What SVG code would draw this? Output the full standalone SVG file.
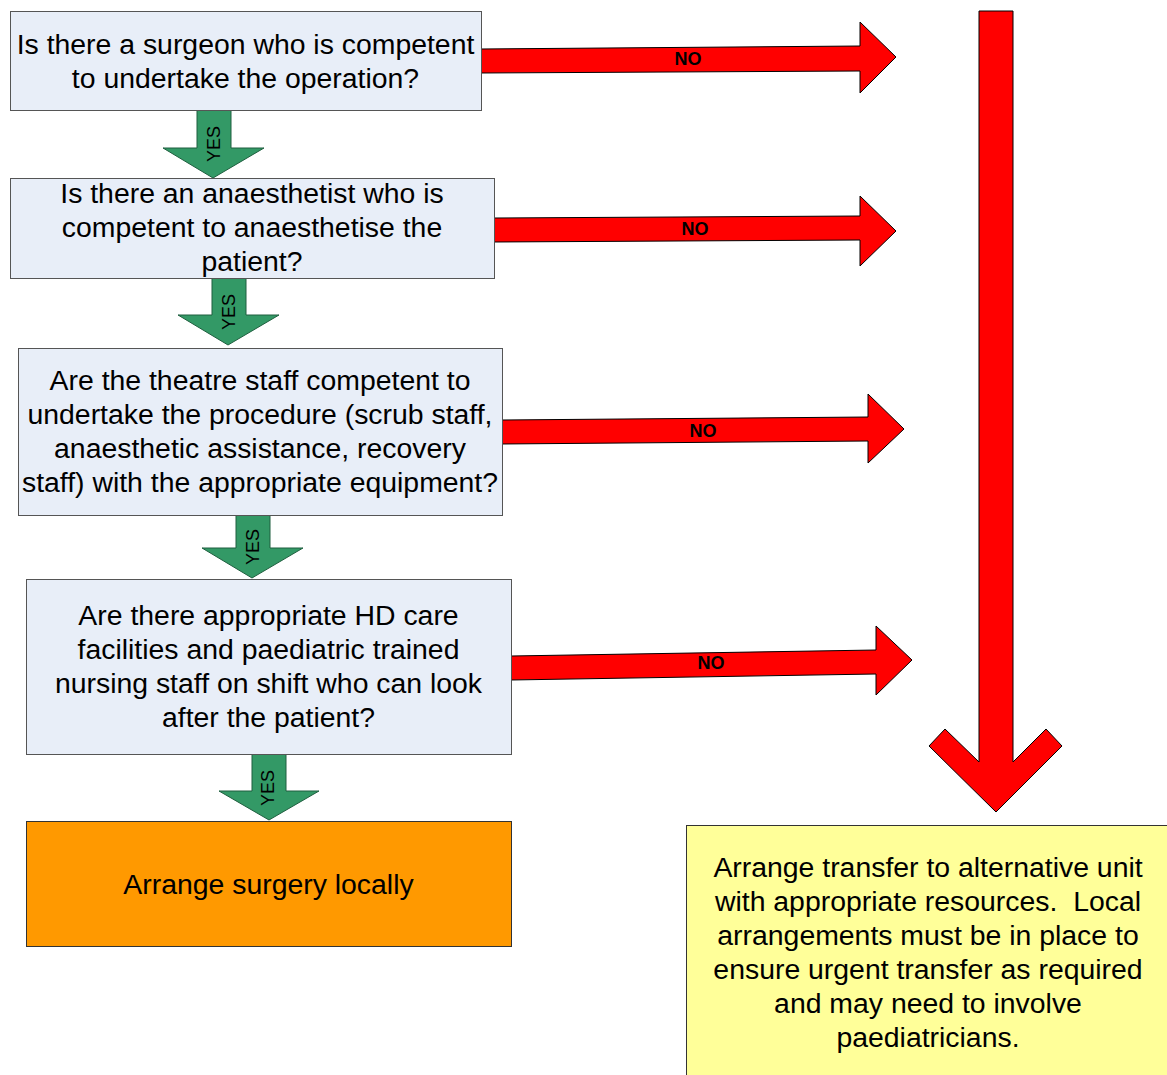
<svg xmlns="http://www.w3.org/2000/svg" width="1167" height="1075" viewBox="0 0 1167 1075">
<style>
.q{fill:#E8EEF8;stroke:#555;stroke-width:1}
.t{font-family:"Liberation Sans",Arial,sans-serif;font-size:28.4px;fill:#000;text-anchor:middle}
.g{fill:#339966;stroke:#1f5f3f;stroke-width:1}
.r{fill:#FF0000;stroke:#000;stroke-width:1}
.no{font-family:"Liberation Sans",Arial,sans-serif;font-size:18px;font-weight:bold;fill:#000;text-anchor:middle}
.yes{font-family:"Liberation Sans",Arial,sans-serif;font-size:18px;fill:#000;text-anchor:middle}
</style>
<rect width="1167" height="1075" fill="#fff"/>
<g id="connectors">
<polygon class="g" points="197,110 231,110 231,148 264,148 213,178 163,148 197,148"/>
<text class="yes" transform="translate(219.5,144) rotate(-90)">YES</text>
<polygon class="g" points="212,278 246,278 246,315 279,315 228,345 178,315 212,315"/>
<text class="yes" transform="translate(234.5,312) rotate(-90)">YES</text>
<polygon class="g" points="236,515 270,515 270,548 303,548 252,578 202,548 236,548"/>
<text class="yes" transform="translate(258.5,547) rotate(-90)">YES</text>
<polygon class="g" points="252,754 286,754 286,791 319,791 269,820 219,791 252,791"/>
<text class="yes" transform="translate(273.5,788) rotate(-90)">YES</text>
<polygon class="r" points="481,49 860,46 860,22 896,57 860,93 860,71 481,73"/>
<text class="no" x="688" y="64.5">NO</text>
<polygon class="r" points="494,218 860,216 860,196 896,231 860,266 860,240 494,242"/>
<text class="no" x="695" y="234.5">NO</text>
<polygon class="r" points="502,420 868,417 868,394 904,429 868,463 868,441 502,444"/>
<text class="no" x="703" y="436.5">NO</text>
<polygon class="r" points="511,656 876,650 876,626 912,660 876,695 876,674 511,680"/>
<text class="no" x="711" y="668.5">NO</text>
<polygon class="r" points="979,11 1013,11 1013,762 1046,729 1062,746 996,812 929,746 945,729 979,762"/>
</g>
<g id="q1">
<rect class="q" x="10.5" y="11.5" width="471" height="99"/>
<text class="t" x="245.5" y="54">Is there a surgeon who is competent</text>
<text class="t" x="245.5" y="88">to undertake the operation?</text>
</g>
<g id="q2">
<rect class="q" x="10.5" y="178.5" width="484" height="100"/>
<text class="t" x="252" y="203">Is there an anaesthetist who is</text>
<text class="t" x="252" y="237">competent to anaesthetise the</text>
<text class="t" x="252" y="271">patient?</text>
</g>
<g id="q3">
<rect class="q" x="18.5" y="348.5" width="484" height="167"/>
<text class="t" x="260" y="390">Are the theatre staff competent to</text>
<text class="t" x="260" y="424">undertake the procedure (scrub staff,</text>
<text class="t" x="260" y="458">anaesthetic assistance, recovery</text>
<text class="t" x="260" y="492">staff) with the appropriate equipment?</text>
</g>
<g id="q4">
<rect class="q" x="26.5" y="579.5" width="485" height="175"/>
<text class="t" x="268.5" y="625">Are there appropriate HD care</text>
<text class="t" x="268.5" y="659">facilities and paediatric trained</text>
<text class="t" x="268.5" y="693">nursing staff on shift who can look</text>
<text class="t" x="268.5" y="727">after the patient?</text>
</g>
<g id="local">
<rect x="26.5" y="821.5" width="485" height="125" fill="#FF9900" stroke="#333" stroke-width="1"/>
<text class="t" x="268.5" y="894">Arrange surgery locally</text>
</g>
<g id="transfer">
<rect x="686.5" y="825.5" width="490" height="260" fill="#FFFF99" stroke="#333" stroke-width="1"/>
<text class="t" x="928" y="877">Arrange transfer to alternative unit</text>
<text class="t" x="928" y="911" xml:space="preserve">with appropriate resources.  Local</text>
<text class="t" x="928" y="945">arrangements must be in place to</text>
<text class="t" x="928" y="979">ensure urgent transfer as required</text>
<text class="t" x="928" y="1013">and may need to involve</text>
<text class="t" x="928" y="1047">paediatricians.</text>
</g>
</svg>
